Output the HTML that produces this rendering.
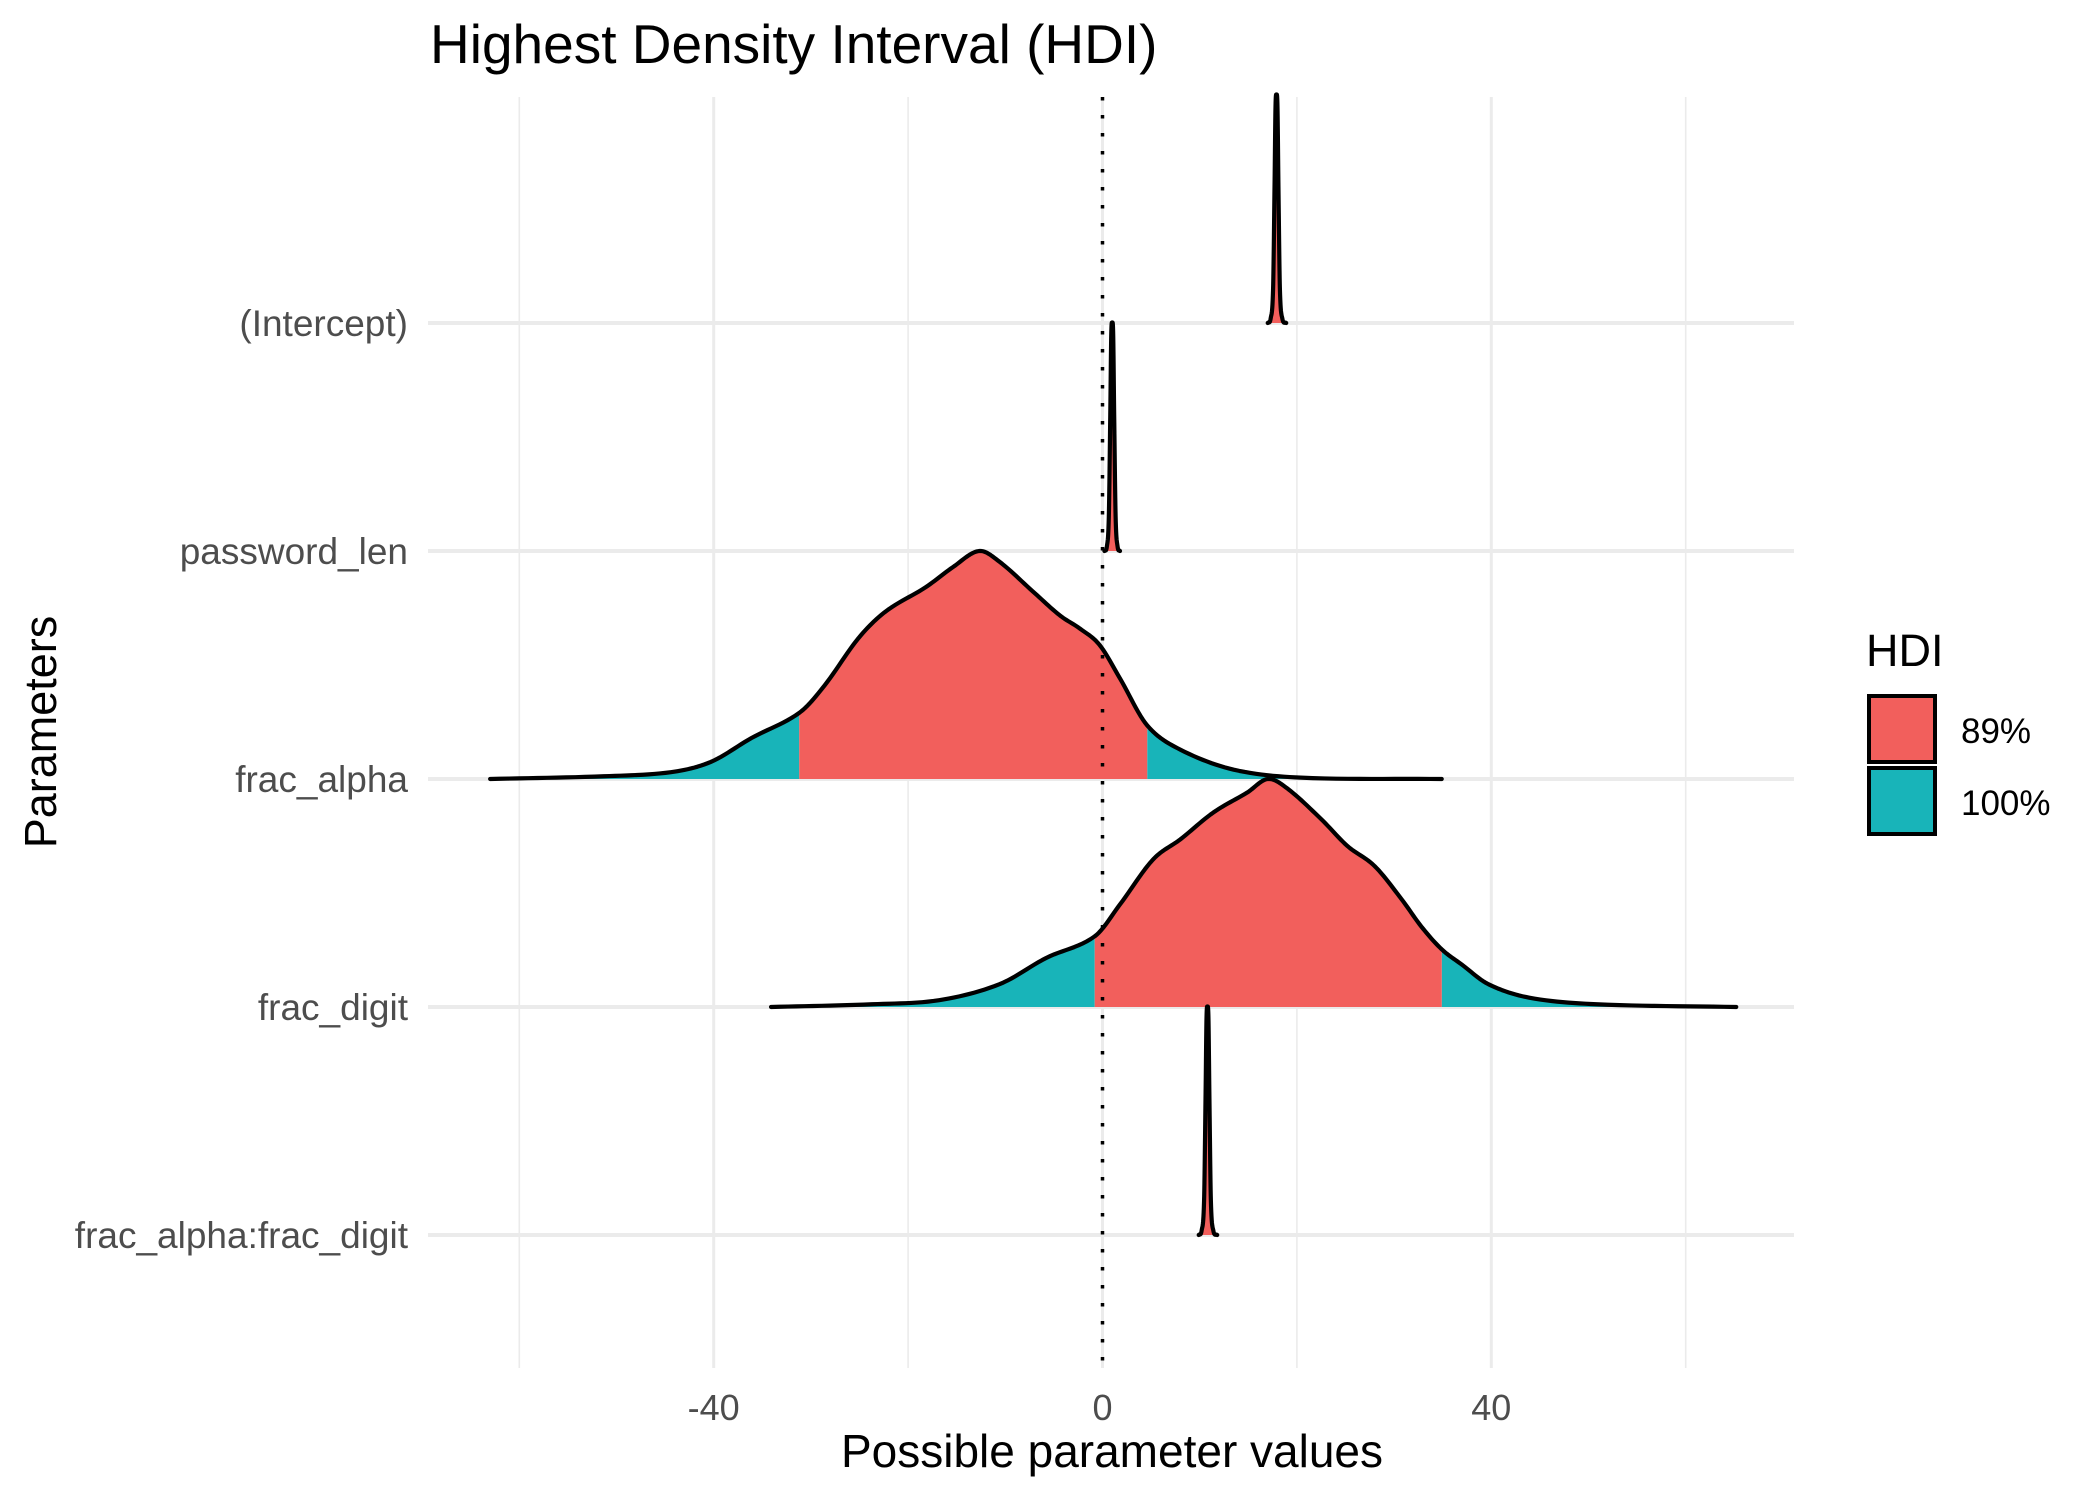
<!DOCTYPE html>
<html><head><meta charset="utf-8"><style>
html,body{margin:0;padding:0;background:#fff;}
svg{display:block;font-family:"Liberation Sans",Arial,sans-serif;}
</style></head><body>
<svg id="chart" width="2100" height="1500" viewBox="0 0 2100 1500">
<text x="430" y="63" font-size="55" fill="#000">Highest Density Interval (HDI)</text>
<text x="1112" y="1467" font-size="46" text-anchor="middle" fill="#000">Possible parameter values</text>
<text transform="translate(56,732) rotate(-90)" font-size="45" text-anchor="middle" fill="#000">Parameters</text>
<g>
<text x="1866" y="666" font-size="45" fill="#000">HDI</text>
<rect x="1869" y="696" width="66" height="66" fill="#F25F5C" stroke="#000" stroke-width="4"/>
<rect x="1869" y="768" width="66" height="66" fill="#18B4B9" stroke="#000" stroke-width="4"/>
<text x="1961" y="743" font-size="35" fill="#000">89%</text>
<text x="1961" y="815" font-size="35" fill="#000">100%</text>
</g>
<g id="grid"></g>
<g id="ridges"></g>
<g id="ref"></g>
<g id="labels"></g>
</svg>
<script>
const categories = ["(Intercept)", "password_len", "frac_alpha", "frac_digit", "frac_alpha:frac_digit"];
const xTicks = [-40, 0, 40];
const xMinor = [-60, -20, 20, 60];
const intX = [17.0,17.3,17.55,17.7,17.8,17.9,18.0,18.1,18.25,18.5,18.9];
const intH = [0,0.02,0.15,0.6,0.95,1,0.95,0.6,0.15,0.02,0];
const pwX = [0.2,0.45,0.65,0.8,0.9,1.0,1.1,1.2,1.35,1.55,1.8];
const pwH = [0,0.02,0.15,0.6,0.95,1,0.95,0.6,0.15,0.02,0];
const faX = [-63,-51.3,-44.4,-40.3,-36.1,-31.2,-28.6,-25.1,-22.3,-18.2,-15.4,-12.7,-10.6,-7.2,-4.4,-2.3,-0.3,1.8,4.6,8.0,13.5,20.4,34.9];
const faH = [0,0.012,0.03,0.075,0.18,0.29,0.41,0.618,0.735,0.841,0.929,1.0,0.953,0.824,0.718,0.659,0.588,0.441,0.235,0.129,0.041,0.006,0];
const fdX = [-34.1,-23.7,-16.8,-10.6,-5.8,-0.8,1.8,5.2,8.0,11.4,14.9,17.0,19.0,22.5,25.2,28.0,30.8,32.8,34.9,37.0,39.7,43.9,50.8,65.2];
const fdH = [0,0.012,0.03,0.1,0.215,0.31,0.45,0.647,0.735,0.853,0.941,1.0,0.959,0.824,0.706,0.618,0.471,0.353,0.253,0.185,0.1,0.041,0.012,0];
const ixX = [9.9,10.2,10.45,10.6,10.7,10.8,10.9,11.0,11.15,11.4,11.8];
const ixH = [0,0.02,0.15,0.6,0.95,1,0.95,0.6,0.15,0.02,0];
const hdiLow = [17.3, 0.5, -31.2, -0.8, 10.2];
const hdiHigh = [18.6, 1.5, 4.6, 34.9, 11.4];
const seriesX = [intX, pwX, faX, fdX, ixX];
const seriesH = [intH, pwH, faH, fdH, ixH];

const NS = "http://www.w3.org/2000/svg";
const X0 = 1102.5, PX = 9.72;
const xs = v => X0 + v * PX;
const ROW0 = 323, ROWSTEP = 228;
const ys = i => ROW0 + i * ROWSTEP;
const hs = h => h * ROWSTEP;
const panelTop = 97, panelBot = 1368, lineL = 428, lineR = 1794;

function mk(tag, attrs, parent){ const e=document.createElementNS(NS,tag); for(const k in attrs) e.setAttribute(k,attrs[k]); parent.appendChild(e); return e; }
const grid=document.getElementById('grid'), ridges=document.getElementById('ridges'), ref=document.getElementById('ref'), labels=document.getElementById('labels');

xMinor.forEach(v=>{
  const l=mk('line',{x1:xs(v),x2:xs(v),y1:panelTop,y2:panelBot,stroke:'#ebebeb','stroke-width':1.6},grid);
  
  
});
xTicks.forEach(v=>{
  const l=mk('line',{x1:xs(v),x2:xs(v),y1:panelTop,y2:panelBot,stroke:'#ebebeb','stroke-width':3},grid);
  
  
  const t=mk('text',{x:xs(v),y:1420,'font-size':36,'text-anchor':'middle',fill:'#4d4d4d'},labels);
  t.textContent=String(v);
  
  
});
categories.forEach((c,i)=>{
  const l=mk('line',{x1:lineL,x2:lineR,y1:ys(i),y2:ys(i),stroke:'#ebebeb','stroke-width':4},grid);
  
  
  const t=mk('text',{x:408,y:ys(i)+13,'font-size':37,'text-anchor':'end',fill:'#4d4d4d'},labels);
  t.textContent=c;
  
  
});

function densify(X,H){
  const out=[];
  const n=X.length;
  for(let k=0;k<n-1;k++){
    const x0=X[Math.max(k-1,0)],x1=X[k],x2=X[k+1],x3=X[Math.min(k+2,n-1)];
    const h0=H[Math.max(k-1,0)],h1=H[k],h2=H[k+1],h3=H[Math.min(k+2,n-1)];
    const m1=(h2-h0)/((x2-x0)||1), m2=(h3-h1)/((x3-x1)||1);
    const dx=x2-x1, steps=12;
    for(let s=0;s<steps;s++){
      const t=s/steps, t2=t*t, t3=t2*t;
      const h=(2*t3-3*t2+1)*h1+(t3-2*t2+t)*dx*m1+(-2*t3+3*t2)*h2+(t3-t2)*dx*m2;
      out.push([x1+t*dx, Math.max(0,h)]);
    }
  }
  out.push([X[n-1],H[n-1]]);
  return out;
}
function interpP(P,v){
  for(let k=0;k<P.length-1;k++){ if(v>=P[k][0]&&v<=P[k+1][0]){ const t=(v-P[k][0])/((P[k+1][0]-P[k][0])||1); return P[k][1]+t*(P[k+1][1]-P[k][1]); } }
  return 0;
}
function areaPath(P,base,a,b){
  const pts=[[a,interpP(P,a)]];
  P.forEach(p=>{ if(p[0]>a&&p[0]<b) pts.push(p); });
  pts.push([b,interpP(P,b)]);
  let d='M'+xs(a)+','+base;
  pts.forEach(p=>{ d+=' L'+xs(p[0]).toFixed(2)+','+(base-hs(p[1])).toFixed(2); });
  d+=' L'+xs(b)+','+base+' Z';
  return d;
}
for(let i=0;i<categories.length;i++){
  const X=seriesX[i], H=seriesH[i], base=ys(i);
  const P=densify(X,H);
  const g=mk('g',{},ridges);
  
  
  const lo=Math.max(hdiLow[i],X[0]), hi=Math.min(hdiHigh[i],X[X.length-1]);
  const t1=mk('path',{d:areaPath(P,base,X[0],lo),fill:'#18B4B9'},g);
  
  
  const t2=mk('path',{d:areaPath(P,base,hi,X[X.length-1]),fill:'#18B4B9'},g);
  
  
  const r=mk('path',{d:areaPath(P,base,lo,hi),fill:'#F25F5C'},g);
  
  
  let d='';
  P.forEach((p,k)=>{ d+=(k?' L':'M')+xs(p[0]).toFixed(2)+','+(base-hs(p[1])).toFixed(2); });
  const o=mk('path',{d:d,fill:'none',stroke:'#000','stroke-width':4.2,'stroke-linejoin':'round','stroke-linecap':'round'},g);
  
  
}
const zl=mk('line',{x1:xs(0),x2:xs(0),y1:panelTop,y2:panelBot,stroke:'#000','stroke-width':3.5,'stroke-dasharray':'3.5 14.5'},ref);


</script>
</body></html>
